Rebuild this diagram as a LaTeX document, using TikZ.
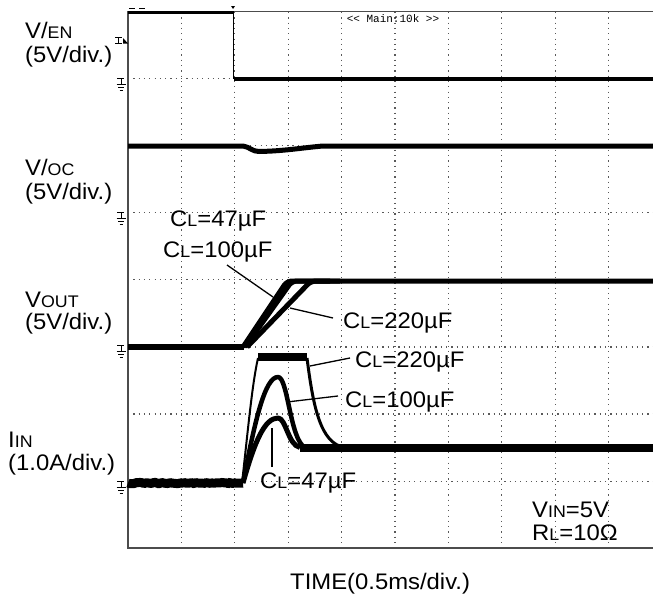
\documentclass[tikz,border=0pt]{standalone}
\usepackage{fontspec}
\setmainfont{Liberation Sans}[FakeStretch=1.06]
\setmonofont{Liberation Mono}
\usetikzlibrary{decorations.pathmorphing}
\newcommand\smcap[1]{{\fontsize{16.8}{16.8}\selectfont #1}}
\begin{document}
\begin{tikzpicture}[x=1pt,y=-1pt,
  txt/.style={inner sep=0pt, anchor=base west, font=\fontsize{22.5}{24}\selectfont},
  gridln/.style={gray!70!black, line width=1.1pt, dash pattern=on 1.2pt off 4.1pt},
  frame/.style={gray!60!black, line width=1.4pt},
  trace/.style={black, line width=#1, line join=round},
  trace/.default=5pt,
  ptr/.style={black, line width=1.3pt},
  gnd/.pic={\draw[black, line width=0.8pt] (-4,0) -- (3,0) (0,0) -- (0,6) (-4.5,6) -- (4.5,6) (-3,9) -- (3,9) (-1.5,12) -- (1.5,12);}
]
\useasboundingbox (0,0) rectangle (653,597);
\fill[white] (0,0) rectangle (653,597);
% grid
\foreach \k in {1,...,9} \draw[gridln] ({128+\k*53.4},12) -- ({128+\k*53.4},548);
\foreach \k in {1,...,7} \draw[gridln] (128,{11.7+\k*67.05}) -- (653,{11.7+\k*67.05});
% frame
\draw[frame] (653,11.7) -- (128,11.7) -- (128,548) -- (653,548);
% small scope markers
\draw[black, line width=1pt] (129,8) -- (135,8) (139,8) -- (145,8);
\fill[black] (231,6) -- (235,6) -- (233,9) -- cycle;
\node[font=\ttfamily\fontsize{11}{12}\selectfont, inner sep=0pt] (mainlbl) at (393,19) {<{}< Main:10k >{}>};
% trigger marker
\draw[black, line width=0.9pt] (115,37.5) -- (122,37.5) (118.5,37.5) -- (118.5,43.5) (115,43.5) -- (122,43.5);
\fill[black] (123,38) -- (128,43.5) -- (123,43.5) -- cycle;
% ground markers
\pic at (121,78) {gnd};
\pic at (121,212) {gnd};
\pic at (121,345.5) {gnd};
\pic at (121,481.5) {gnd};
% V/EN trace
\draw[trace=3.2pt] (128,12.3) -- (233.5,12.3);
\draw[trace=1.6pt] (233.5,12.3) -- (233.5,78.8);
\draw[trace=3.5pt] (233.5,78.8) -- (653,78.8);
% V/OC trace
\draw[trace=5pt] (128,146) -- (243,146) .. controls (250,147) and (252,151.5) .. (259,151.5)
  .. controls (285,151) and (300,148) .. (323,146) -- (653,146);
% VOUT traces
\draw[trace=5.5pt] (128,347) -- (244,347);
\draw[trace=5pt, rounded corners=5pt] (243,347) -- (287,281) -- (653,281);
\draw[trace=5pt, rounded corners=5pt] (245,347) -- (292,281) -- (330,281);
\draw[trace=5pt, rounded corners=5pt] (247,347) -- (311,281) -- (340,281);
% IIN traces
\draw[trace=9pt, decorate, decoration={random steps, segment length=2pt, amplitude=0.7pt}] (128,483) -- (243,483);
\draw[trace=8pt] (300,447.5) -- (653,447.5);
% 220uF
\draw[trace=2pt] (242,483) .. controls (248,430) and (252,385) .. (258,358);
\draw[trace=8pt] (258,357) -- (307,357);
\draw[trace=3pt] (307,358) .. controls (313,405) and (320,444) .. (345,447.5);
% 100uF
\draw[trace=4.5pt] (243,483) .. controls (255,420) and (265,377) .. (278,377)
   .. controls (288,377) and (290,440) .. (305,447.5);
% 47uF
\draw[trace=5pt] (243,483) .. controls (255,440) and (265,418) .. (278,418)
   .. controls (286,418) and (288,445) .. (300,447.5);
% left labels
\node[txt] (en1) at (25,38) {V/\smcap{EN}};
\node[txt] (en2) at (25,62) {(5V/div.)};
\node[txt] (oc1) at (25,175) {V/\smcap{OC}};
\node[txt] (oc2) at (25,199) {(5V/div.)};
\node[txt] (vo1) at (25,307) {V\smcap{OUT}};
\node[txt] (vo2) at (25,329) {(5V/div.)};
\node[txt] (ii1) at (8,447) {I\smcap{IN}};
\node[txt] (ii2) at (8,470) {(1.0A/div.)};
% CL labels
\node[txt] (c47a) at (170,226) {C\smcap{L}=47µF};
\node[txt] (c100a) at (163,257) {C\smcap{L}=100µF};
\node[txt] (c220a) at (343,328) {C\smcap{L}=220µF};
\node[txt] (c220b) at (355,367) {C\smcap{L}=220µF};
\node[txt] (c100b) at (345,407) {C\smcap{L}=100µF};
\node[txt] (c47b) at (260,488) {C\smcap{L}=47µF};
\node[txt] (vin) at (532,517) {V\smcap{IN}=5V};
\node[txt] (rl) at (532,540) {R\smcap{L}=10Ω};
\node[txt] (time) at (290,589) {TIME(0.5ms/div.)};
% pointers
\coordinate (p100a) at (227,265); \coordinate (q100a) at (273,297);
\coordinate (p220a) at (333,318); \coordinate (q220a) at (290,308);
\coordinate (p220b) at (350,358); \coordinate (q220b) at (310,366);
\coordinate (p100b) at (338,396); \coordinate (q100b) at (287,402);
\coordinate (p47b) at (272,467);  \coordinate (q47b) at (272,428);
\draw[ptr] (p100a) -- (q100a);
\draw[ptr] (p220a) -- (q220a);
\draw[ptr] (p220b) -- (q220b);
\draw[ptr] (p100b) -- (q100b);
\draw[ptr] (p47b) -- (q47b);
\end{tikzpicture}
\end{document}
